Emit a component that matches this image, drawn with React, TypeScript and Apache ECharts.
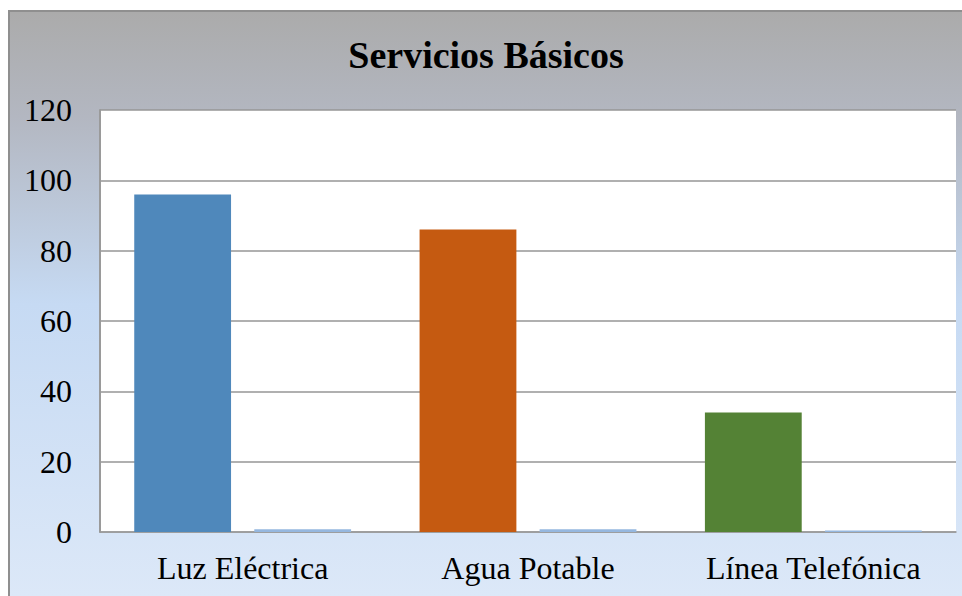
import React, { useEffect, useRef } from "react";
import * as echarts from "echarts";

const categories = ["Luz Eléctrica", "Agua Potable", "Línea Telefónica"];
const mainValues = [96, 86, 34];
const mainColors = ["#4F88BB", "#C55A11", "#548235"];
const secondValues = [0.8, 0.8, 0.4];
const yTicks = [0, 20, 40, 60, 80, 100, 120];
const titleText = "Servicios Básicos";

const FONT = "'Liberation Serif', 'Times New Roman', serif";

export default function App() {
  const ref = useRef<HTMLDivElement>(null);
  useEffect(() => {
    if (!ref.current) return;
    const chart = echarts.init(ref.current, undefined, { renderer: "svg" });
    chart.setOption({
      animation: false,
      backgroundColor: new echarts.graphic.LinearGradient(0, 0, 0, 1, [
        { offset: 0, color: "#ABABAB" },
        { offset: 0.18, color: "#B3B7C1" },
        { offset: 0.5, color: "#C6DAF3" },
        { offset: 1, color: "#DCE8F8" },
      ]),
      title: {
        text: titleText,
        left: "center",
        top: 19,
        textStyle: { fontFamily: FONT, fontSize: 38, fontWeight: "bold", color: "#000" },
      },
      grid: {
        left: 90,
        right: 6,
        top: 98,
        bottom: 64,
        show: true,
        backgroundColor: "#ffffff",
        borderWidth: 0,
      },
      xAxis: {
        type: "category",
        data: categories,
        axisTick: { show: false },
        axisLine: { show: true, lineStyle: { color: "#9a9a9a", width: 1.5 } },
        axisLabel: { fontFamily: FONT, fontSize: 32, color: "#000", margin: 20 },
      },
      yAxis: {
        type: "value",
        min: yTicks[0],
        max: yTicks[yTicks.length - 1],
        interval: 20,
        axisTick: { show: false },
        axisLine: { show: true, lineStyle: { color: "#9a9a9a", width: 2 } },
        splitLine: { show: true, lineStyle: { color: "#969696", width: 1.5 } },
        axisLabel: { fontFamily: FONT, fontSize: 32, color: "#000", margin: 28 },
      },
      series: [
        {
          type: "bar",
          data: mainValues.map((v, i) => ({ value: v, itemStyle: { color: mainColors[i] } })),
          barGap: "24%",
          barCategoryGap: "24%",
        },
        {
          type: "bar",
          data: secondValues,
          itemStyle: { color: "#95B7DF" },
        },
      ],
    });
    return () => chart.dispose();
  }, []);

  return (
    <div
      style={{
        position: "fixed",
        left: 8,
        top: 10,
        width: 954,
        height: 586,
        boxSizing: "border-box",
        borderTop: "2px solid #8f8f8f",
        borderLeft: "2px solid #8f8f8f",
      }}
    >
      <div ref={ref} style={{ width: 952, height: 584 }} />
    </div>
  );
}
